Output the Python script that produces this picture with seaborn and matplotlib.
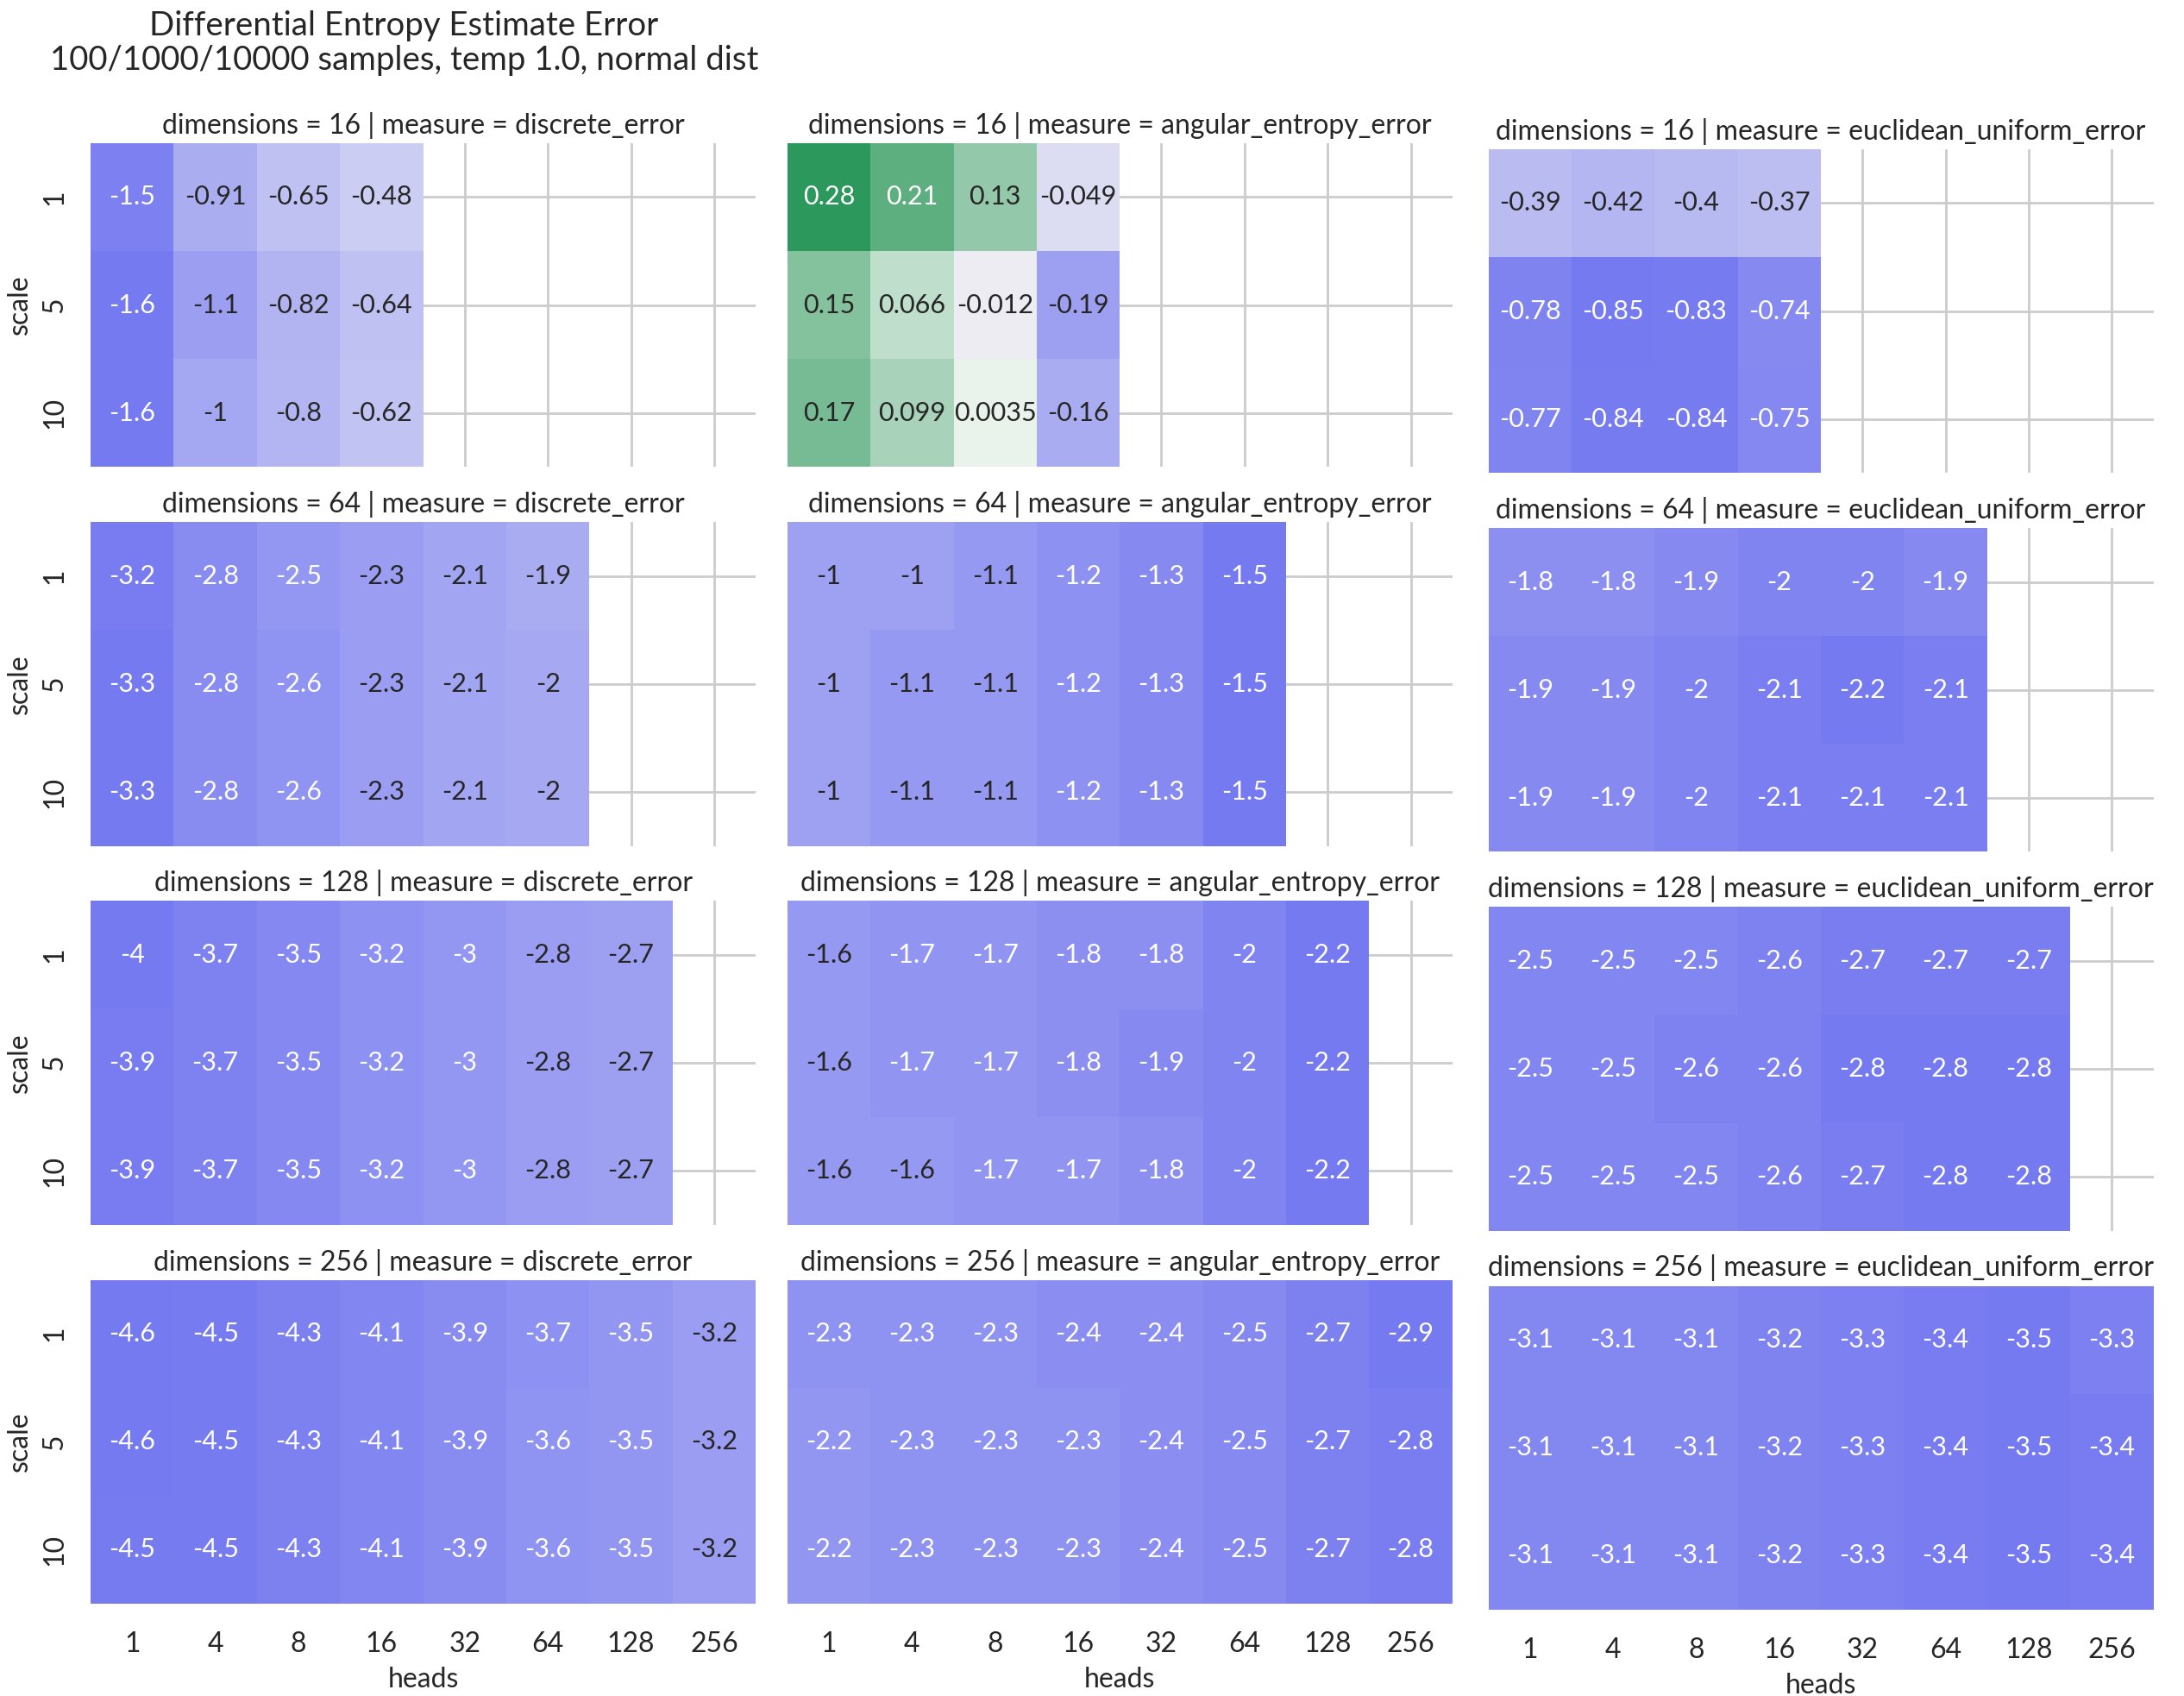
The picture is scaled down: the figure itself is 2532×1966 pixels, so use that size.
import pandas as pd
import matplotlib.pyplot as plt
import seaborn as sns
from seaborn.utils import relative_luminance

heads = [1, 4, 8, 16, 32, 64, 128, 256]
scales = [1, 5, 10]
dimensions = [16, 64, 128, 256]
measures = ['discrete_error', 'angular_entropy_error', 'euclidean_uniform_error']

# one list per scale (1, 5, 10); only heads <= dimensions were run
discrete_error = {
    16: [[-1.5, -0.91, -0.65, -0.48],
         [-1.6, -1.1, -0.82, -0.64],
         [-1.6, -1.0, -0.8, -0.62]],
    64: [[-3.2, -2.8, -2.5, -2.3, -2.1, -1.9],
         [-3.3, -2.8, -2.6, -2.3, -2.1, -2.0],
         [-3.3, -2.8, -2.6, -2.3, -2.1, -2.0]],
    128: [[-4.0, -3.7, -3.5, -3.2, -3.0, -2.8, -2.7],
          [-3.9, -3.7, -3.5, -3.2, -3.0, -2.8, -2.7],
          [-3.9, -3.7, -3.5, -3.2, -3.0, -2.8, -2.7]],
    256: [[-4.6, -4.5, -4.3, -4.1, -3.9, -3.7, -3.5, -3.2],
          [-4.6, -4.5, -4.3, -4.1, -3.9, -3.6, -3.5, -3.2],
          [-4.5, -4.5, -4.3, -4.1, -3.9, -3.6, -3.5, -3.2]],
}
angular_entropy_error = {
    16: [[0.28, 0.21, 0.13, -0.049],
         [0.15, 0.066, -0.012, -0.19],
         [0.17, 0.099, 0.0035, -0.16]],
    64: [[-1.0, -1.0, -1.1, -1.2, -1.3, -1.5],
         [-1.0, -1.1, -1.1, -1.2, -1.3, -1.5],
         [-1.0, -1.1, -1.1, -1.2, -1.3, -1.5]],
    128: [[-1.6, -1.7, -1.7, -1.8, -1.8, -2.0, -2.2],
          [-1.6, -1.7, -1.7, -1.8, -1.9, -2.0, -2.2],
          [-1.6, -1.6, -1.7, -1.7, -1.8, -2.0, -2.2]],
    256: [[-2.3, -2.3, -2.3, -2.4, -2.4, -2.5, -2.7, -2.9],
          [-2.2, -2.3, -2.3, -2.3, -2.4, -2.5, -2.7, -2.8],
          [-2.2, -2.3, -2.3, -2.3, -2.4, -2.5, -2.7, -2.8]],
}
euclidean_uniform_error = {
    16: [[-0.39, -0.42, -0.4, -0.37],
         [-0.78, -0.85, -0.83, -0.74],
         [-0.77, -0.84, -0.84, -0.75]],
    64: [[-1.8, -1.8, -1.9, -2.0, -2.0, -1.9],
         [-1.9, -1.9, -2.0, -2.1, -2.2, -2.1],
         [-1.9, -1.9, -2.0, -2.1, -2.1, -2.1]],
    128: [[-2.5, -2.5, -2.5, -2.6, -2.7, -2.7, -2.7],
          [-2.5, -2.5, -2.6, -2.6, -2.8, -2.8, -2.8],
          [-2.5, -2.5, -2.5, -2.6, -2.7, -2.8, -2.8]],
    256: [[-3.1, -3.1, -3.1, -3.2, -3.3, -3.4, -3.5, -3.3],
          [-3.1, -3.1, -3.1, -3.2, -3.3, -3.4, -3.5, -3.4],
          [-3.1, -3.1, -3.1, -3.2, -3.3, -3.4, -3.5, -3.4]],
}

tables = [discrete_error, angular_entropy_error, euclidean_uniform_error]
rows = []
for m, table in zip(measures, tables):
    for d in dimensions:
        for s, vals in zip(scales, table[d]):
            for h, v in zip(heads, vals):
                rows.append({'dimensions': d, 'measure': m, 'scale': s,
                             'heads': h, 'error': v})
df = pd.DataFrame(rows)

sns.set_theme(style='whitegrid')
plt.rcParams['font.family'] = ['Lato', 'DejaVu Sans']

cmap = sns.diverging_palette(265, 140, s=88, l=56, as_cmap=True)
# annotations turn dark about a quarter of the way from darkest blue to centre
text_switch = relative_luminance(cmap(0.5 * 0.258))


def draw_heatmap(data, **kws):
    ax = plt.gca()
    d = data.pivot(index='scale', columns='heads', values='error')
    sns.heatmap(d, annot=True, fmt='.2g', cmap=cmap, center=0, cbar=False,
                ax=ax, annot_kws={'fontsize': 11})
    mesh = ax.collections[-1]
    for txt, fc in zip(ax.texts, mesh.get_facecolors()):
        txt.set_color('.15' if relative_luminance(fc) > text_switch else 'w')


g = sns.FacetGrid(df, row='dimensions', col='measure', row_order=dimensions,
                  col_order=measures, height=2.46, aspect=1.72)
g.map_dataframe(draw_heatmap)
g.set_axis_labels('heads', 'scale')
g.set_titles(size=11.5, pad=4)
for ax in g.axes.flat:
    ax.tick_params(axis='x', labelsize=11.5, pad=5.5)
    ax.tick_params(axis='y', labelsize=11.5, pad=3.5)
    ax.xaxis.label.set_size(11.5)
    ax.yaxis.label.set_size(11.5)

g.figure.set_size_inches(12.66, 9.83)
g.figure.subplots_adjust(left=0.0415, right=0.984, top=0.9156, bottom=0.0544,
                         wspace=0.0476, hspace=0.17)
# the third column sits a little lower and further right
for ax in g.axes[:, 2]:
    p = ax.get_position()
    ax.set_position([p.x0 + 0.002, p.y0 - 0.0035, p.width, p.height])

g.figure.text(0.185, 0.994,
              'Differential Entropy Estimate Error\n'
              '100/1000/10000 samples, temp 1.0, normal dist',
              ha='center', va='top', fontsize=13.8, linespacing=1.15)

g.figure.savefig('out.png', dpi=200)
